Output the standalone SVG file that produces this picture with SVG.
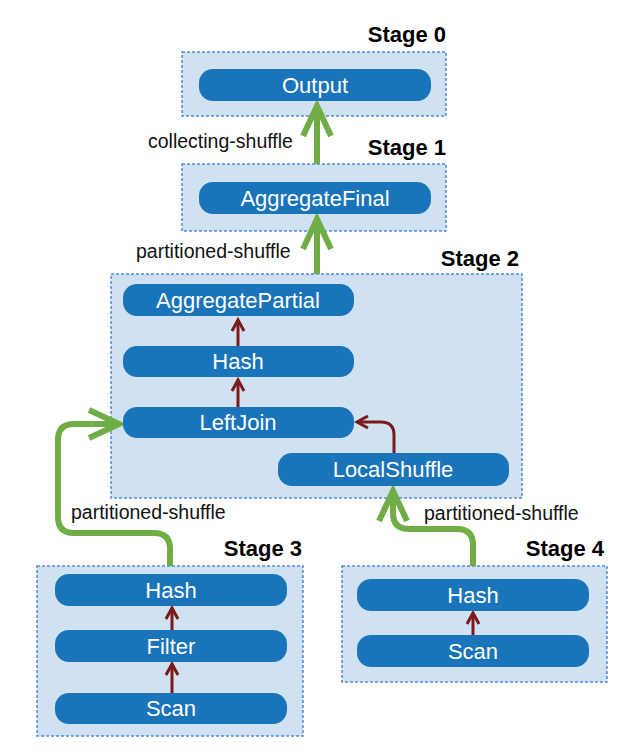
<svg xmlns="http://www.w3.org/2000/svg" width="640" height="752" viewBox="0 0 640 752">
<defs>
<style>
.stage{fill:#d0e1f2;stroke:#4f8ae0;stroke-width:1.5;stroke-dasharray:3 2}
.node{fill:#1a74b9}
.nt{fill:#ffffff;font-family:"Liberation Sans",Arial,sans-serif;font-size:22px;text-anchor:middle}
.st{fill:#000;font-family:"Liberation Sans",Arial,sans-serif;font-size:22px;font-weight:bold;text-anchor:end}
.lbl{fill:#111;font-family:"Liberation Sans",Arial,sans-serif;font-size:19.5px}
.g{fill:none;stroke:#70ad47;stroke-width:6;marker-end:url(#ga)}
.r{fill:none;stroke:#7a1a1a;stroke-width:3;marker-end:url(#ra)}
</style>
<marker id="ga" markerUnits="userSpaceOnUse" viewBox="-40 -20 46 40" refX="0" refY="0" markerWidth="46" markerHeight="40" orient="auto" overflow="visible">
<path d="M-30,-14 L0,0 L-30,14" fill="none" stroke="#70ad47" stroke-width="6"/>
</marker>
<marker id="ra" markerUnits="userSpaceOnUse" viewBox="-14 -10 18 20" refX="0" refY="0" markerWidth="18" markerHeight="20" orient="auto" overflow="visible">
<path d="M-11,-6 L0,0 L-11,6" fill="none" stroke="#7a1a1a" stroke-width="3"/>
</marker>
</defs>
<rect width="640" height="752" fill="#ffffff"/>

<g id="stage0">
<rect class="stage" x="182" y="52" width="264" height="64"/>
<text class="st" x="446" y="42">Stage 0</text>
</g>
<g id="stage1">
<rect class="stage" x="182" y="164" width="264" height="67"/>
<text class="st" x="446" y="155">Stage 1</text>
</g>
<g id="stage2">
<rect class="stage" x="111" y="274" width="411" height="224"/>
<text class="st" x="519" y="266">Stage 2</text>
</g>
<g id="stage3">
<rect class="stage" x="37" y="566" width="266" height="170"/>
<text class="st" x="302" y="556">Stage 3</text>
</g>
<g id="stage4">
<rect class="stage" x="342" y="566" width="265" height="116"/>
<text class="st" x="604" y="556">Stage 4</text>
</g>

<g id="connectors">
<path class="g" d="M317,164 V106"/>
<path class="g" d="M317,274 V219"/>
<path class="g" d="M170,566 V549 Q170,533 154,533 H74 Q58,533 58,517 V440 Q58,424 74,424 H119"/>
<path class="g" d="M473,566 V545 Q473,529 457,529 H409 Q393,529 393,513 V491"/>
<path class="r" d="M238,346 V320"/>
<path class="r" d="M238,407 V380"/>
<path class="r" d="M394,453 V435 Q394,422 381,422 H357"/>
<path class="r" d="M172,630 V608"/>
<path class="r" d="M172,693 V664"/>
<path class="r" d="M473,635 V613"/>
</g>

<g id="labels">
<text class="lbl" x="148" y="148">collecting-shuffle</text>
<text class="lbl" x="136" y="258">partitioned-shuffle</text>
<text class="lbl" x="71" y="519">partitioned-shuffle</text>
<text class="lbl" x="424" y="520">partitioned-shuffle</text>
</g>

<g id="output"><rect class="node" x="199" y="69" width="232" height="32" rx="14"/><text class="nt" x="315" y="93">Output</text></g>
<g id="aggregatefinal"><rect class="node" x="199" y="182" width="232" height="32" rx="14"/><text class="nt" x="315" y="206">AggregateFinal</text></g>
<g id="aggregatepartial"><rect class="node" x="123" y="284" width="231" height="32" rx="14"/><text class="nt" x="238" y="308">AggregatePartial</text></g>
<g id="hash2"><rect class="node" x="123" y="346" width="231" height="31" rx="14"/><text class="nt" x="238" y="369">Hash</text></g>
<g id="leftjoin"><rect class="node" x="123" y="407" width="231" height="31" rx="14"/><text class="nt" x="238" y="430">LeftJoin</text></g>
<g id="localshuffle"><rect class="node" x="278" y="453" width="231" height="33" rx="14"/><text class="nt" x="393" y="477">LocalShuffle</text></g>
<g id="hash3"><rect class="node" x="55" y="574" width="232" height="32" rx="14"/><text class="nt" x="171" y="598">Hash</text></g>
<g id="filter3"><rect class="node" x="55" y="630" width="232" height="32" rx="14"/><text class="nt" x="171" y="654">Filter</text></g>
<g id="scan3"><rect class="node" x="55" y="693" width="232" height="31" rx="14"/><text class="nt" x="171" y="716">Scan</text></g>
<g id="hash4"><rect class="node" x="357" y="579" width="232" height="32" rx="14"/><text class="nt" x="473" y="603">Hash</text></g>
<g id="scan4"><rect class="node" x="357" y="635" width="232" height="32" rx="14"/><text class="nt" x="473" y="659">Scan</text></g>
</svg>
